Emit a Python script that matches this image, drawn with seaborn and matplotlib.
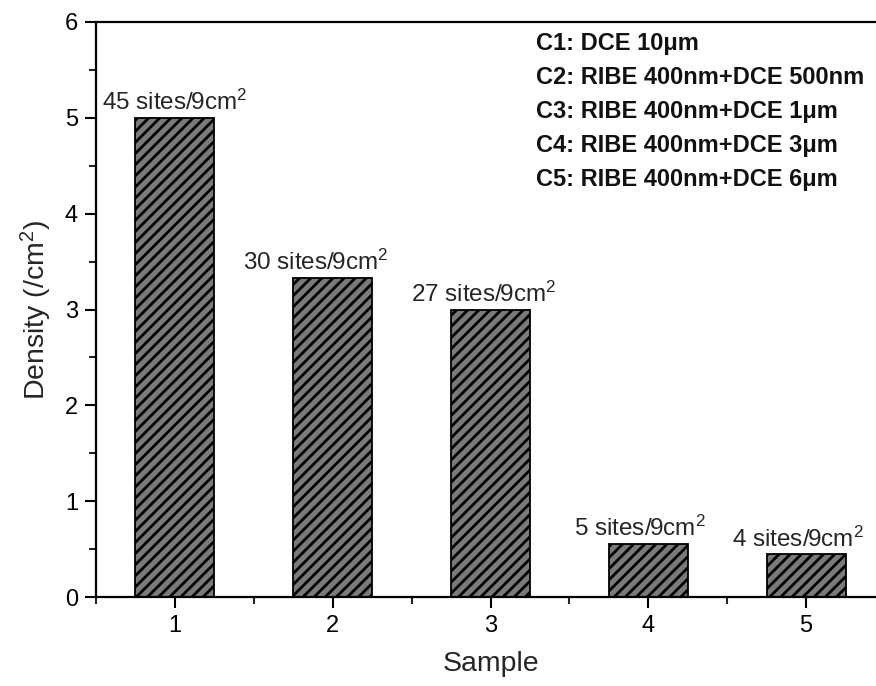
import matplotlib
matplotlib.use("Agg")
import matplotlib.pyplot as plt
import seaborn as sns
import pandas as pd
from matplotlib.ticker import MultipleLocator

samples = [1, 2, 3, 4, 5]
sites = [45, 30, 27, 5, 4]
density = [5.0, 30 / 9, 3.0, 5 / 9, 4 / 9]
labels = ["45 sites/9cm$^2$", "30 sites/9cm$^2$", "27 sites/9cm$^2$",
          "5 sites/9cm$^2$", "4 sites/9cm$^2$"]
legend_lines = ["C1: DCE 10μm", "C2: RIBE 400nm+DCE 500nm",
                "C3: RIBE 400nm+DCE 1μm", "C4: RIBE 400nm+DCE 3μm",
                "C5: RIBE 400nm+DCE 6μm"]

sns.set_theme(style="ticks")
plt.rcParams['font.family'] = ['Liberation Sans', 'DejaVu Sans']
plt.rcParams['mathtext.fontset'] = 'custom'
plt.rcParams['mathtext.rm'] = 'Liberation Sans'
plt.rcParams['mathtext.it'] = 'Liberation Sans'
plt.rcParams['hatch.linewidth'] = 2.0
plt.rcParams['hatch.color'] = 'black'

df = pd.DataFrame({"Sample": samples, "Density": density})

fig = plt.figure(figsize=(8.76, 6.86), dpi=100)
ax = fig.add_axes([96 / 876, 89 / 686, 789 / 876, 575 / 686])

sns.barplot(data=df, x="Sample", y="Density", native_scale=True, width=0.5,
            color="#7a7a7a", saturation=1, edgecolor="black", linewidth=1.3,
            ax=ax)
for p in ax.patches:
    p.set_hatch('///')
    p.set_facecolor("#7a7a7a")

ax.set_xlim(0.5, 5.5)
ax.set_ylim(0, 6)
ax.set_xticks(samples)
ax.set_xticklabels([str(s) for s in samples])
ax.xaxis.set_minor_locator(MultipleLocator(0.5))
ax.yaxis.set_major_locator(MultipleLocator(1))
ax.yaxis.set_minor_locator(MultipleLocator(0.5))
ax.tick_params(axis='both', which='major', direction='out', length=8, width=1.5,
               labelsize=17, colors='black', pad=5)
ax.tick_params(axis='both', which='minor', direction='out', length=5, width=1.5)
ax.tick_params(top=False, right=False, which='both')
for s in ['left', 'bottom', 'top']:
    ax.spines[s].set_linewidth(1.6)
    ax.spines[s].set_color('black')
ax.spines['right'].set_visible(False)

ax.set_xlabel("Sample", fontsize=20.5, labelpad=10)
ax.set_ylabel("Density (/cm$^2$)", fontsize=20.5, labelpad=8)

offsets = [0, -12, -5, -6, -6]
for x, y, lab, dx in zip(samples, density, labels, offsets):
    ax.annotate(lab, xy=(x, y), xytext=(dx, 2), textcoords='offset points',
                ha='center', va='bottom', fontsize=17.5)

for i, line in enumerate(legend_lines):
    ax.text(3.29, 5.78 - i * 0.355, line, fontsize=17, fontweight='bold',
            ha='left', va='center', color='#111111')

fig.savefig("out.png", dpi=100)
